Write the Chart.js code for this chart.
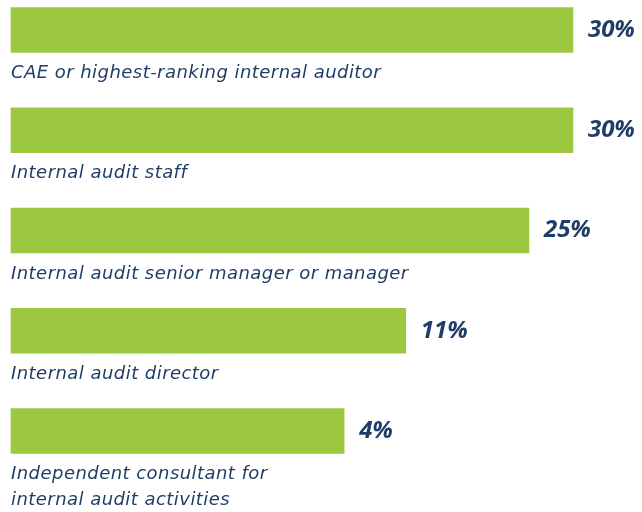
<!DOCTYPE html>
<html lang="en">
<head>
    <meta charset="UTF-8">
    <script src="https://cdn.jsdelivr.net/npm/chart.js"></script>
    <title>Audit roles</title>
    <style>
        html, body { margin: 0; padding: 0; background: #fff; }
    </style>
</head>
<body>
<canvas id="myChart" width="642" height="512"></canvas>

<script>
    // categories (a line break is kept as a separate entry)
    const labels = [
        ['CAE or highest-ranking internal auditor'],
        ['Internal audit staff'],
        ['Internal audit senior manager or manager'],
        ['Internal audit director'],
        ['Independent consultant for', 'internal audit activities']
    ];
    const values = [30, 30, 25, 11, 4];
    const valueLabels = ['30%', '30%', '25%', '11%', '4%'];

    const navy = '#1f3d66';

    const textPlugin = {
        id: 'barTexts',
        afterDatasetsDraw(chart) {
            const ctx = chart.ctx;
            const meta = chart.getDatasetMeta(0);
            ctx.save();
            ctx.fillStyle = navy;
            meta.data.forEach(function (bar, i) {
                const bottom = bar.y + bar.height / 2;
                // value at the end of bar
                ctx.letterSpacing = '0px';
                ctx.font = 'italic bold 24px "Open Sans"';
                ctx.textBaseline = 'middle';
                ctx.textAlign = 'left';
                ctx.fillText(valueLabels[i], bar.x + 15, bar.y);
                // category under bar
                ctx.font = 'italic 18px "DejaVu Sans"';
                ctx.letterSpacing = '0.45px';
                labels[i].forEach(function (line, j) {
                    ctx.fillText(line, chart.chartArea.left, bottom + 21 + j * 26);
                });
            });
            ctx.restore();
        }
    };

    const myChart = new Chart(document.getElementById('myChart'), {
        type: 'bar',
        data: {
            labels: labels.map(l => l.join(' ')),
            datasets: [{
                data: values,
                base: -33.86,
                backgroundColor: '#9bc83f',
                barThickness: 45,
                clip: false
            }]
        },
        options: {
            indexAxis: 'y',
            responsive: false,
            animation: false,
            maintainAspectRatio: false,
            layout: { padding: { left: 11, right: 11, top: 30, bottom: 81 } },
            plugins: { legend: { display: false }, tooltip: { enabled: false } },
            scales: {
                x: { display: false, min: -33.86, max: 36.6 },
                y: { display: false, offset: false }
            }
        },
        plugins: [textPlugin]
    });
</script>
</body>
</html>
